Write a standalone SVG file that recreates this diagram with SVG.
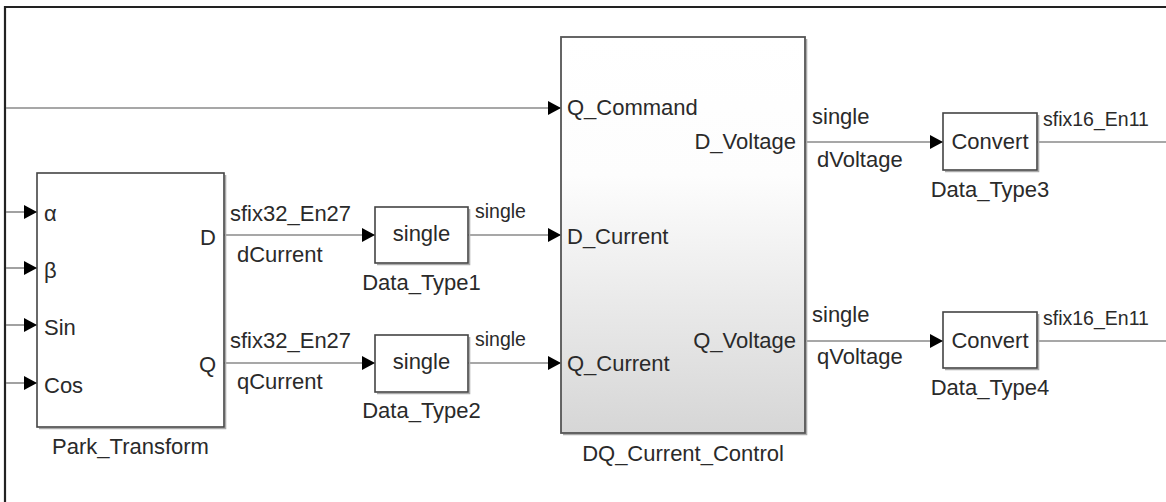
<svg xmlns="http://www.w3.org/2000/svg" width="1166" height="502" viewBox="0 0 1166 502">
<defs>
<linearGradient id="dqg" x1="0" y1="0" x2="0" y2="1">
<stop offset="0" stop-color="#ffffff"/>
<stop offset="0.35" stop-color="#fdfdfd"/>
<stop offset="1" stop-color="#d6d6d6"/>
</linearGradient>
<marker id="arr" markerUnits="userSpaceOnUse" markerWidth="13" markerHeight="14" refX="13" refY="7" orient="auto">
<path d="M0,0 L13,7 L0,14 z" fill="#000"/>
</marker>
</defs>
<style>
text{font-family:"Liberation Sans",Arial,sans-serif;font-size:22px;fill:#2a2a2a}
.sm{font-size:19.5px}
.mid{text-anchor:middle}
.end{text-anchor:end}
.blk{fill:#fff;stroke:#444;stroke-width:1.6}
.shd{fill:none;stroke:#aaa;stroke-width:1.6}
.wire{fill:none;stroke:#8a8a8a;stroke-width:1.6;marker-end:url(#arr)}
.wire0{fill:none;stroke:#8a8a8a;stroke-width:1.6}
</style>
<rect width="1166" height="502" fill="#fff"/>
<path d="M5,502 V7 H1166" fill="none" stroke="#222" stroke-width="2.2"/>

<g id="connectors">
<path class="wire" d="M6,108 H561"/>
<path class="wire" d="M6,212 H37"/>
<path class="wire" d="M6,268 H37"/>
<path class="wire" d="M6,325 H37"/>
<path class="wire" d="M6,383 H37"/>
<path class="wire" d="M224,235 H375"/>
<path class="wire" d="M224,363 H375"/>
<path class="wire" d="M468,235 H561"/>
<path class="wire" d="M468,363 H561"/>
<path class="wire" d="M805,142 H943"/>
<path class="wire" d="M805,341 H943"/>
<path class="wire0" d="M1037,142 H1166"/>
<path class="wire0" d="M1037,341 H1166"/>
<text x="230" y="221">sfix32_En27</text>
<text x="237" y="262">dCurrent</text>
<text x="230" y="348">sfix32_En27</text>
<text x="237" y="389">qCurrent</text>
<text class="sm" x="475" y="218">single</text>
<text class="sm" x="475" y="346">single</text>
<text x="812" y="124">single</text>
<text x="817" y="167">dVoltage</text>
<text x="812" y="322">single</text>
<text x="817" y="364">qVoltage</text>
<text class="sm" x="1043" y="126">sfix16_En11</text>
<text class="sm" x="1043" y="325">sfix16_En11</text>
</g>

<g id="Park_Transform">
<path class="shd" d="M39,428.5 H225.5 V175"/>
<rect class="blk" x="37" y="173" width="187" height="254"/>
<text x="44" y="221">α</text>
<text x="44" y="278">β</text>
<text x="44" y="335">Sin</text>
<text x="44" y="393">Cos</text>
<text class="end" x="216" y="245">D</text>
<text class="end" x="216" y="372">Q</text>
<text class="mid" x="130.5" y="454">Park_Transform</text>
</g>

<g id="Data_Type1">
<path class="shd" d="M377,264.5 H469.5 V209"/>
<rect class="blk" x="375" y="207" width="93" height="56"/>
<text class="mid" x="421.5" y="241">single</text>
<text class="mid" x="421.5" y="290">Data_Type1</text>
</g>

<g id="Data_Type2">
<path class="shd" d="M377,393.5 H469.5 V337"/>
<rect class="blk" x="375" y="335" width="93" height="57"/>
<text class="mid" x="421.5" y="369">single</text>
<text class="mid" x="421.5" y="418">Data_Type2</text>
</g>

<g id="DQ_Current_Control">
<path class="shd" d="M563,434.5 H806.5 V39"/>
<rect x="561" y="37" width="244" height="396" fill="url(#dqg)" stroke="#555" stroke-width="1.8"/>
<text x="567" y="115">Q_Command</text>
<text x="567" y="244">D_Current</text>
<text x="567" y="371">Q_Current</text>
<text class="end" x="796" y="149">D_Voltage</text>
<text class="end" x="796" y="348">Q_Voltage</text>
<text class="mid" x="683" y="461">DQ_Current_Control</text>
</g>

<g id="Data_Type3">
<path class="shd" d="M945,171.5 H1038.5 V115"/>
<rect class="blk" x="943" y="113" width="94" height="57"/>
<text class="mid" x="990" y="149">Convert</text>
<text class="mid" x="990" y="197">Data_Type3</text>
</g>

<g id="Data_Type4">
<path class="shd" d="M945,369.5 H1038.5 V314"/>
<rect class="blk" x="943" y="312" width="94" height="56"/>
<text class="mid" x="990" y="348">Convert</text>
<text class="mid" x="990" y="395">Data_Type4</text>
</g>
</svg>
